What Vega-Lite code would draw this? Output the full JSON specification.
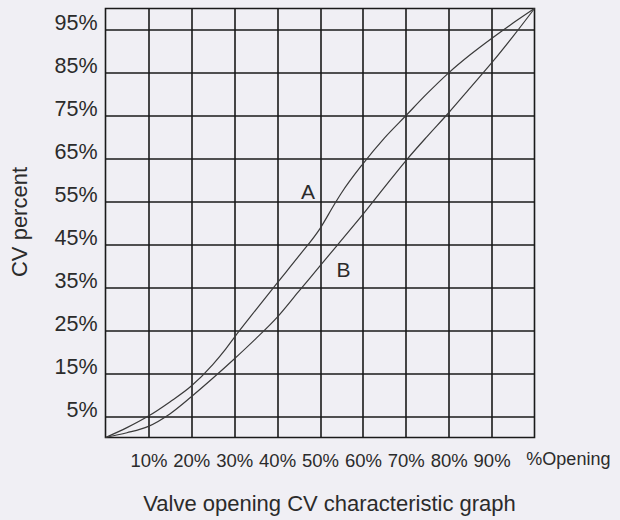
{
  "$schema": "https://vega.github.io/schema/vega-lite/v6.json",
  "width": 429,
  "height": 429,
  "autosize": {"type": "none"},
  "padding": {"left": 105.5, "top": 8.5, "right": 85.5, "bottom": 82.5},
  "background": "#f0eff4",
  "config": {
    "view": {"stroke": "#1a1a1a", "strokeWidth": 1.6},
    "font": "Liberation Sans"
  },
  "data": {
    "values": [
      {"curve": "A", "opening": 0, "cv": 0},
      {"curve": "A", "opening": 5, "cv": 2.3},
      {"curve": "A", "opening": 10, "cv": 5},
      {"curve": "A", "opening": 15, "cv": 8.3},
      {"curve": "A", "opening": 20, "cv": 12},
      {"curve": "A", "opening": 25, "cv": 17},
      {"curve": "A", "opening": 28, "cv": 20.6},
      {"curve": "A", "opening": 30, "cv": 23.3},
      {"curve": "A", "opening": 35, "cv": 29.7},
      {"curve": "A", "opening": 40, "cv": 36},
      {"curve": "A", "opening": 45, "cv": 42.2},
      {"curve": "A", "opening": 50, "cv": 48.7},
      {"curve": "A", "opening": 53.5, "cv": 54.6},
      {"curve": "A", "opening": 55, "cv": 57},
      {"curve": "A", "opening": 60, "cv": 63.8},
      {"curve": "A", "opening": 65, "cv": 69.8},
      {"curve": "A", "opening": 70, "cv": 75},
      {"curve": "A", "opening": 75, "cv": 80.2},
      {"curve": "A", "opening": 80, "cv": 85},
      {"curve": "A", "opening": 85, "cv": 89.2},
      {"curve": "A", "opening": 90, "cv": 93},
      {"curve": "A", "opening": 95, "cv": 96.6},
      {"curve": "A", "opening": 100, "cv": 100},
      {"curve": "B", "opening": 0, "cv": 0},
      {"curve": "B", "opening": 5, "cv": 1.1},
      {"curve": "B", "opening": 10, "cv": 2.6},
      {"curve": "B", "opening": 15, "cv": 5.5},
      {"curve": "B", "opening": 20, "cv": 9.5},
      {"curve": "B", "opening": 25, "cv": 13.8},
      {"curve": "B", "opening": 30, "cv": 18.3},
      {"curve": "B", "opening": 35, "cv": 23},
      {"curve": "B", "opening": 40, "cv": 28},
      {"curve": "B", "opening": 45, "cv": 34},
      {"curve": "B", "opening": 50, "cv": 40},
      {"curve": "B", "opening": 55, "cv": 46},
      {"curve": "B", "opening": 60, "cv": 52},
      {"curve": "B", "opening": 65, "cv": 58.3},
      {"curve": "B", "opening": 70, "cv": 64.5},
      {"curve": "B", "opening": 75, "cv": 70.2},
      {"curve": "B", "opening": 80, "cv": 75.7},
      {"curve": "B", "opening": 85, "cv": 81.5},
      {"curve": "B", "opening": 90, "cv": 87.3},
      {"curve": "B", "opening": 95, "cv": 93.5},
      {"curve": "B", "opening": 100, "cv": 100}
    ]
  },
  "layer": [
    {
      "mark": {"type": "line", "interpolate": "monotone", "color": "#3a3a3a", "strokeWidth": 1.2},
      "encoding": {
        "x": {
          "field": "opening",
          "type": "quantitative",
          "scale": {"domain": [0, 100], "nice": false},
          "axis": {
            "values": [10, 20, 30, 40, 50, 60, 70, 80, 90],
            "labelExpr": "datum.value + '%'",
            "grid": true,
            "gridColor": "#1a1a1a",
            "gridWidth": 1.6,
            "gridOpacity": 1,
            "ticks": false,
            "tickSize": 0,
            "domain": false,
            "labelFont": "Liberation Sans",
            "labelFontSize": 18.5,
            "labelColor": "#2b2b2b",
            "labelPadding": 29,
            "labelBaseline": "alphabetic",
            "labelDx": -2,
            "labelFlush": false,
            "labelOverlap": false,
            "title": "Valve opening CV characteristic graph",
            "titleFont": "Liberation Sans",
            "titleFontSize": 22,
            "titleFontWeight": "normal",
            "titleColor": "#2b2b2b",
            "titleX": 223.5,
            "titleY": 72.6,
            "titleAlign": "center",
            "titleBaseline": "alphabetic"
          }
        },
        "y": {
          "field": "cv",
          "type": "quantitative",
          "scale": {"domain": [0, 100], "nice": false},
          "axis": {
            "values": [5, 15, 25, 35, 45, 55, 65, 75, 85, 95],
            "labelExpr": "datum.value + '%'",
            "grid": true,
            "gridColor": "#1a1a1a",
            "gridWidth": 1.6,
            "gridOpacity": 1,
            "ticks": false,
            "tickSize": 0,
            "domain": false,
            "labelFont": "Liberation Sans",
            "labelFontSize": 21.5,
            "labelColor": "#2b2b2b",
            "labelPadding": 8.4,
            "labelBaseline": "alphabetic",
            "labelDy": 8,
            "labelFlush": false,
            "labelOverlap": false,
            "title": "CV percent",
            "titleFont": "Liberation Sans",
            "titleFontSize": 22,
            "titleFontWeight": "normal",
            "titleColor": "#2b2b2b",
            "titleX": -79,
            "titleY": 213,
            "titleAngle": 270,
            "titleAlign": "center",
            "titleBaseline": "alphabetic"
          }
        },
        "detail": {"field": "curve"}
      }
    },
    {
      "data": {"values": [
        {"label": "A", "opening": 47.2, "cv": 55.6},
        {"label": "B", "opening": 55.5, "cv": 37.5}
      ]},
      "mark": {"type": "text", "fontSize": 21, "align": "center", "baseline": "alphabetic", "color": "#2b2b2b", "font": "Liberation Sans"},
      "encoding": {
        "x": {"field": "opening", "type": "quantitative"},
        "y": {"field": "cv", "type": "quantitative"},
        "text": {"field": "label"}
      }
    },
    {
      "data": {"values": [{"label": "%Opening", "opening": 98.1, "cv": -6.4}]},
      "mark": {"type": "text", "fontSize": 18, "align": "left", "baseline": "alphabetic", "color": "#2b2b2b", "font": "Liberation Sans"},
      "encoding": {
        "x": {"field": "opening", "type": "quantitative"},
        "y": {"field": "cv", "type": "quantitative"},
        "text": {"field": "label"}
      }
    }
  ]
}
